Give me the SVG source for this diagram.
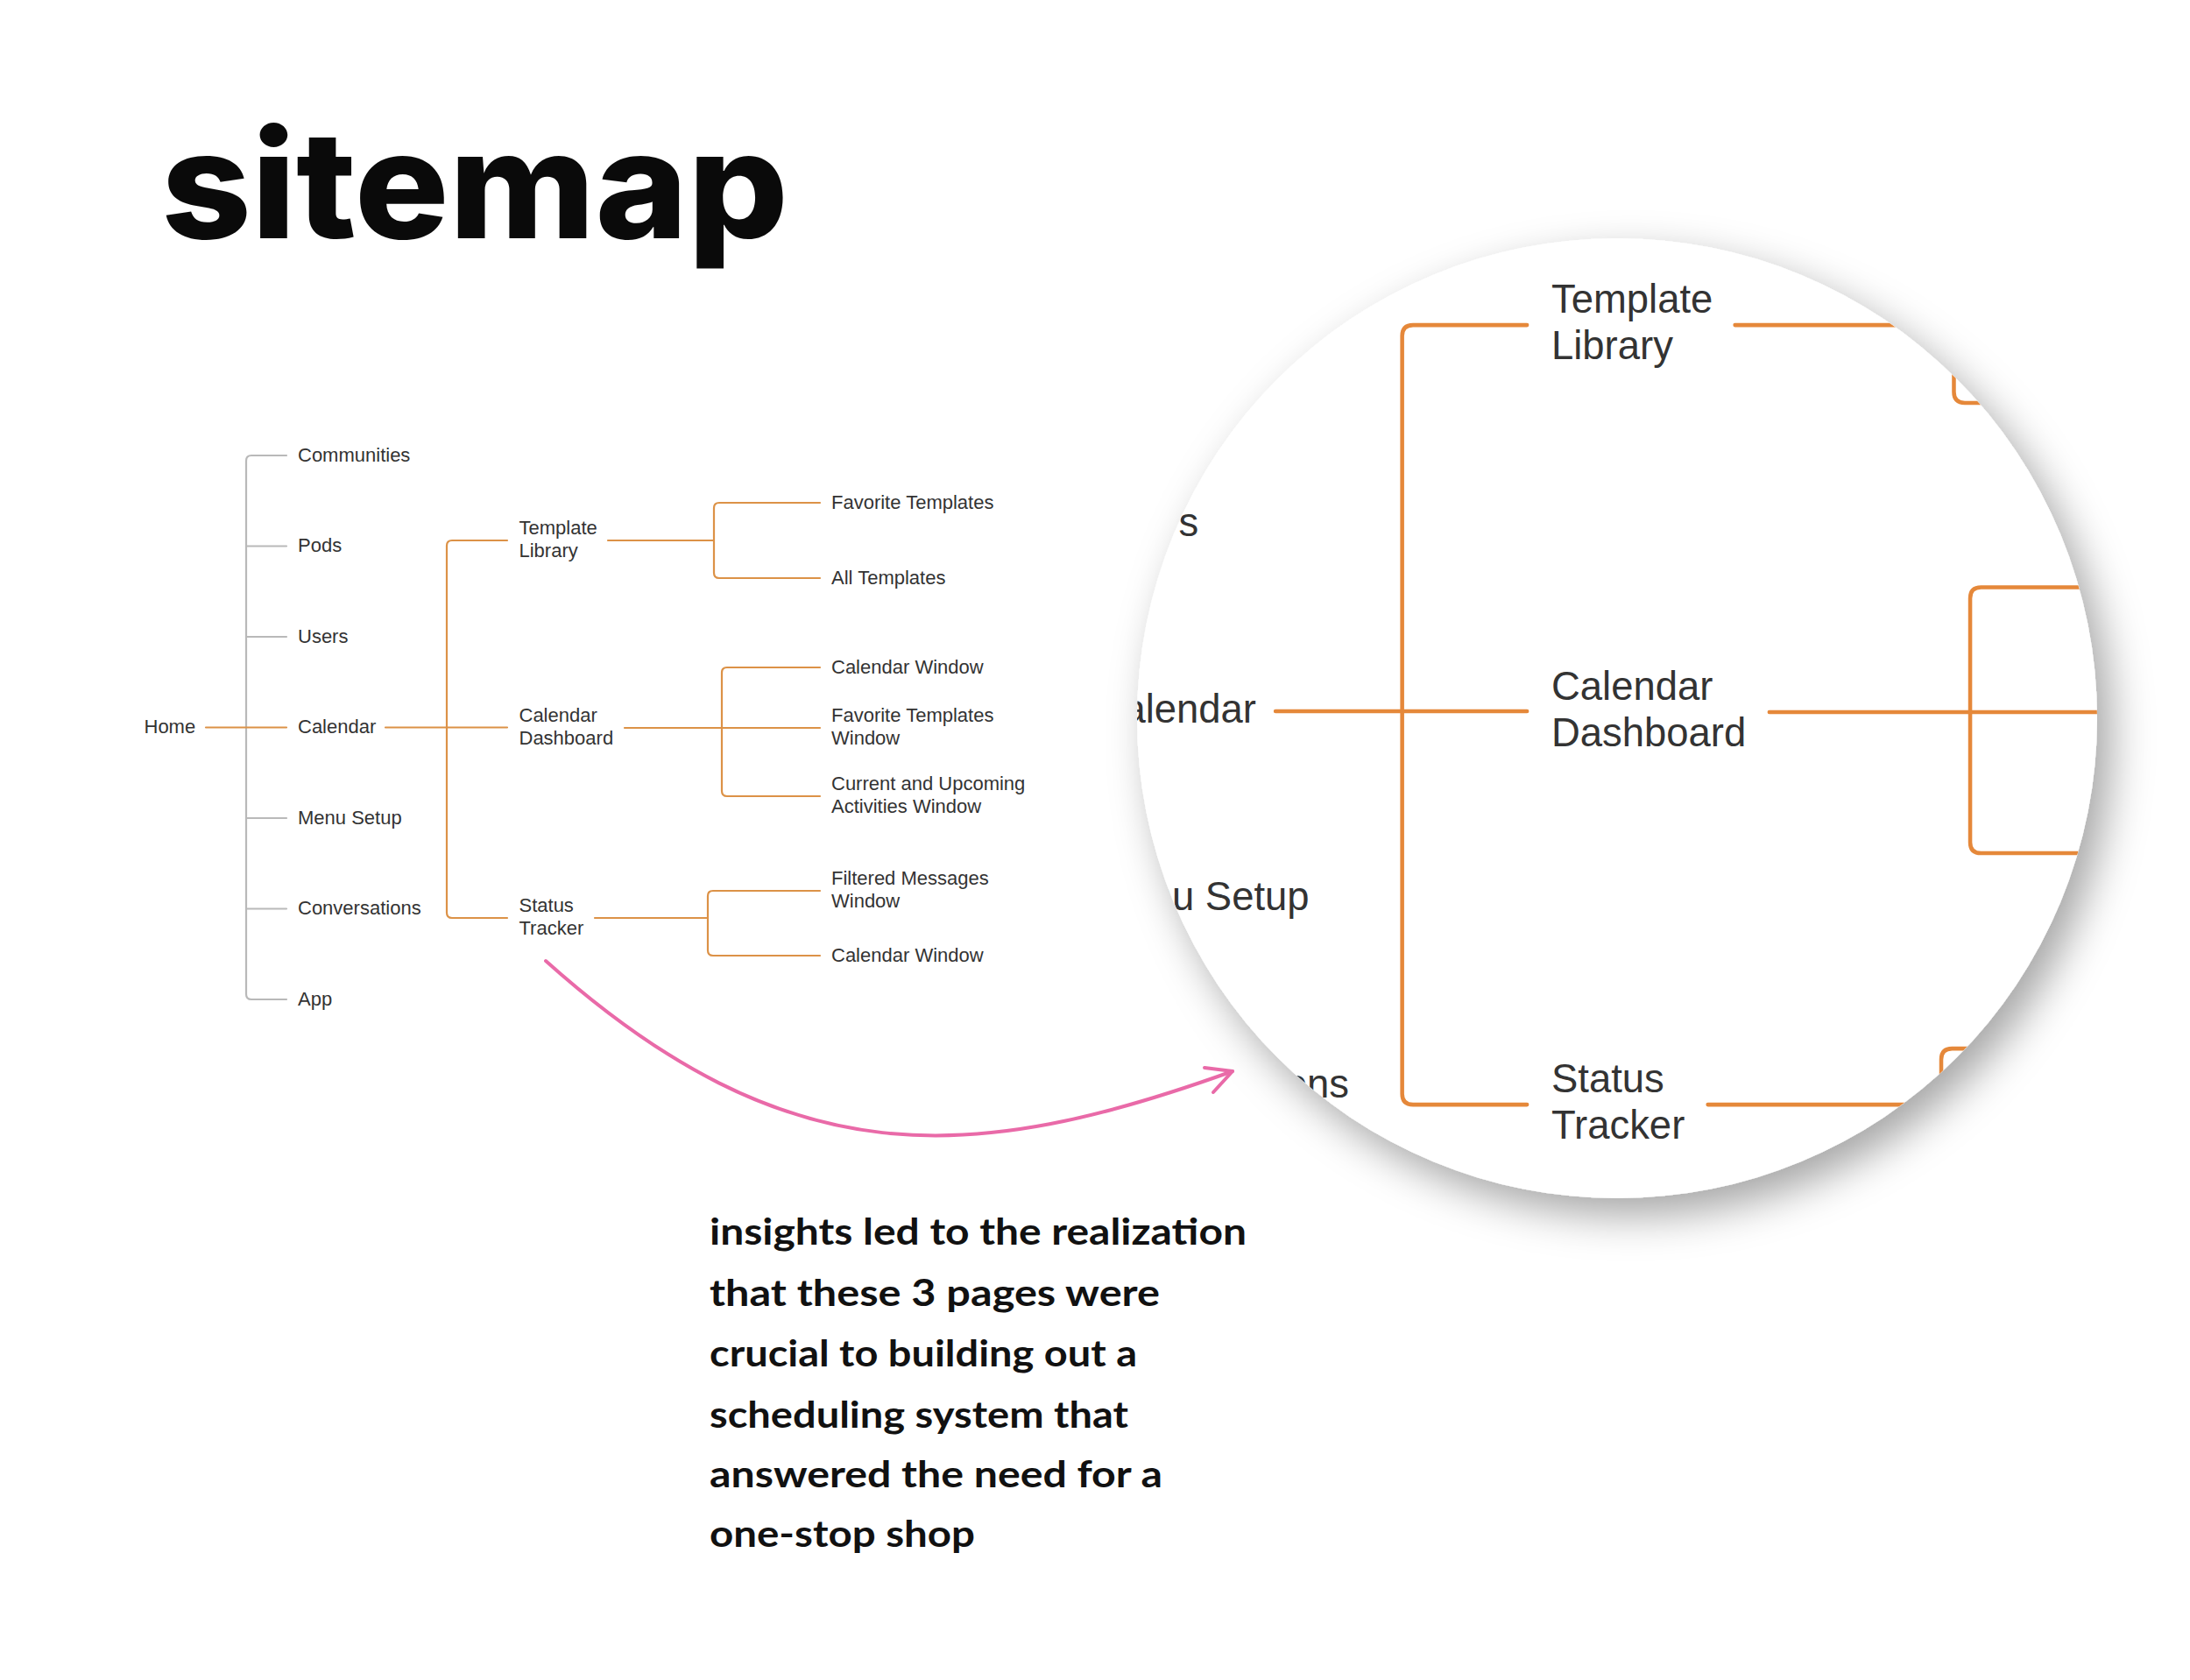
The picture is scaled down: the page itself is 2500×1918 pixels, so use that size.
<svg xmlns="http://www.w3.org/2000/svg" width="2500" height="1918" viewBox="0 0 2500 1918">
<defs>
<style>
.lbl{font-family:"Liberation Sans",Arial,sans-serif;font-size:22px;fill:#333333;}
.grey{fill:none;stroke:#b9b9b9;stroke-width:2.2;stroke-linecap:round;}
.org{fill:none;stroke:var(--org,#dc9247);stroke-width:2.2;stroke-linecap:round;}
.title{font-family:Inter,"Noto Sans",sans-serif;font-weight:800;font-size:170px;fill:#0a0a0a;}
.note{font-family:Lato,"Noto Sans",sans-serif;font-weight:700;font-size:42px;fill:#111111;}
.pink{fill:none;stroke:#e96aa8;stroke-width:4;stroke-linecap:round;stroke-linejoin:round;}
</style>
<clipPath id="lens"><circle cx="1846" cy="820" r="548"/></clipPath>
<filter id="sh" x="-20%" y="-20%" width="150%" height="150%">
<feDropShadow dx="16" dy="20" stdDeviation="24" flood-color="#000000" flood-opacity="0.35"/>
</filter>
</defs>
<rect width="2500" height="1918" fill="#ffffff"/>

<g id="title"><text class="title" x="184" y="272" textLength="716" lengthAdjust="spacingAndGlyphs">sitemap</text></g>

<g id="tree">
 <g id="connectors">
  <path class="grey" d="M327 520 H287 Q281 520 281 526 V1135 Q281 1141 287 1141 H327"/>
  <path class="grey" d="M281 623.5 H327 M281 727 H327 M281 934 H327 M281 1037.5 H327"/>
  <path class="org" d="M235 830.5 H327"/>
  <path class="org" d="M440 830.5 H579 M579 617 H516 Q510 617 510 623 V1042 Q510 1048 516 1048 H579"/>
  <path class="org" d="M694 617 H815 M936 574 H821 Q815 574 815 580 V654 Q815 660 821 660 H936"/>
  <path class="org" d="M713 831 H936 M936 762 H830 Q824 762 824 768 V903 Q824 909 830 909 H936"/>
  <path class="org" d="M679 1048 H808 M936 1017 H814 Q808 1017 808 1023 V1085 Q808 1091 814 1091 H936"/>
 </g>
 <g id="n-home"><text class="lbl" x="164.5" y="837">Home</text></g>
 <g id="n-communities"><text class="lbl" x="340" y="526.5">Communities</text></g>
 <g id="n-pods"><text class="lbl" x="340" y="630">Pods</text></g>
 <g id="n-users"><text class="lbl" x="340" y="733.5">Users</text></g>
 <g id="n-calendar"><text class="lbl" x="340" y="837">Calendar</text></g>
 <g id="n-menu-setup"><text class="lbl" x="340" y="940.5">Menu Setup</text></g>
 <g id="n-conversations"><text class="lbl" x="340" y="1044">Conversations</text></g>
 <g id="n-app"><text class="lbl" x="340" y="1147.5">App</text></g>
 <g id="n-template-library"><text class="lbl" x="592.5" y="610">Template</text><text class="lbl" x="592.5" y="636">Library</text></g>
 <g id="n-calendar-dashboard"><text class="lbl" x="592.5" y="824">Calendar</text><text class="lbl" x="592.5" y="850">Dashboard</text></g>
 <g id="n-status-tracker"><text class="lbl" x="592.5" y="1041">Status</text><text class="lbl" x="592.5" y="1067">Tracker</text></g>
 <g id="n-favorite-templates"><text class="lbl" x="949" y="580.5">Favorite Templates</text></g>
 <g id="n-all-templates"><text class="lbl" x="949" y="666.5">All Templates</text></g>
 <g id="n-calendar-window-1"><text class="lbl" x="949" y="768.5">Calendar Window</text></g>
 <g id="n-favorite-templates-window"><text class="lbl" x="949" y="824">Favorite Templates</text><text class="lbl" x="949" y="850">Window</text></g>
 <g id="n-current-upcoming"><text class="lbl" x="949" y="902">Current and Upcoming</text><text class="lbl" x="949" y="928">Activities Window</text></g>
 <g id="n-filtered-messages"><text class="lbl" x="949" y="1010">Filtered Messages</text><text class="lbl" x="949" y="1036">Window</text></g>
 <g id="n-calendar-window-2"><text class="lbl" x="949" y="1097.5">Calendar Window</text></g>
</g>

<g id="magnifier">
 <circle cx="1846" cy="820" r="548" fill="#ffffff" filter="url(#sh)"/>
 <g clip-path="url(#lens)">
  <use href="#tree" transform="translate(547.5,-903) scale(2.065)" style="--org:#e5883a"/>
 </g>
</g>

<g id="arrow">
 <path class="pink" d="M623 1097 C900 1345 1110 1330 1407 1223"/>
 <path class="pink" d="M1375 1219 L1407 1223 L1385 1247"/>
</g>

<g id="note">
 <text class="note" x="810" y="1421" textLength="613" lengthAdjust="spacingAndGlyphs">insights led to the realization</text>
 <text class="note" x="810" y="1491" textLength="514" lengthAdjust="spacingAndGlyphs">that these 3 pages were</text>
 <text class="note" x="810" y="1560" textLength="488" lengthAdjust="spacingAndGlyphs">crucial to building out a</text>
 <text class="note" x="810" y="1630" textLength="478" lengthAdjust="spacingAndGlyphs">scheduling system that</text>
 <text class="note" x="810" y="1698" textLength="517" lengthAdjust="spacingAndGlyphs">answered the need for a</text>
 <text class="note" x="810" y="1766" textLength="303" lengthAdjust="spacingAndGlyphs">one-stop shop</text>
</g>
</svg>
